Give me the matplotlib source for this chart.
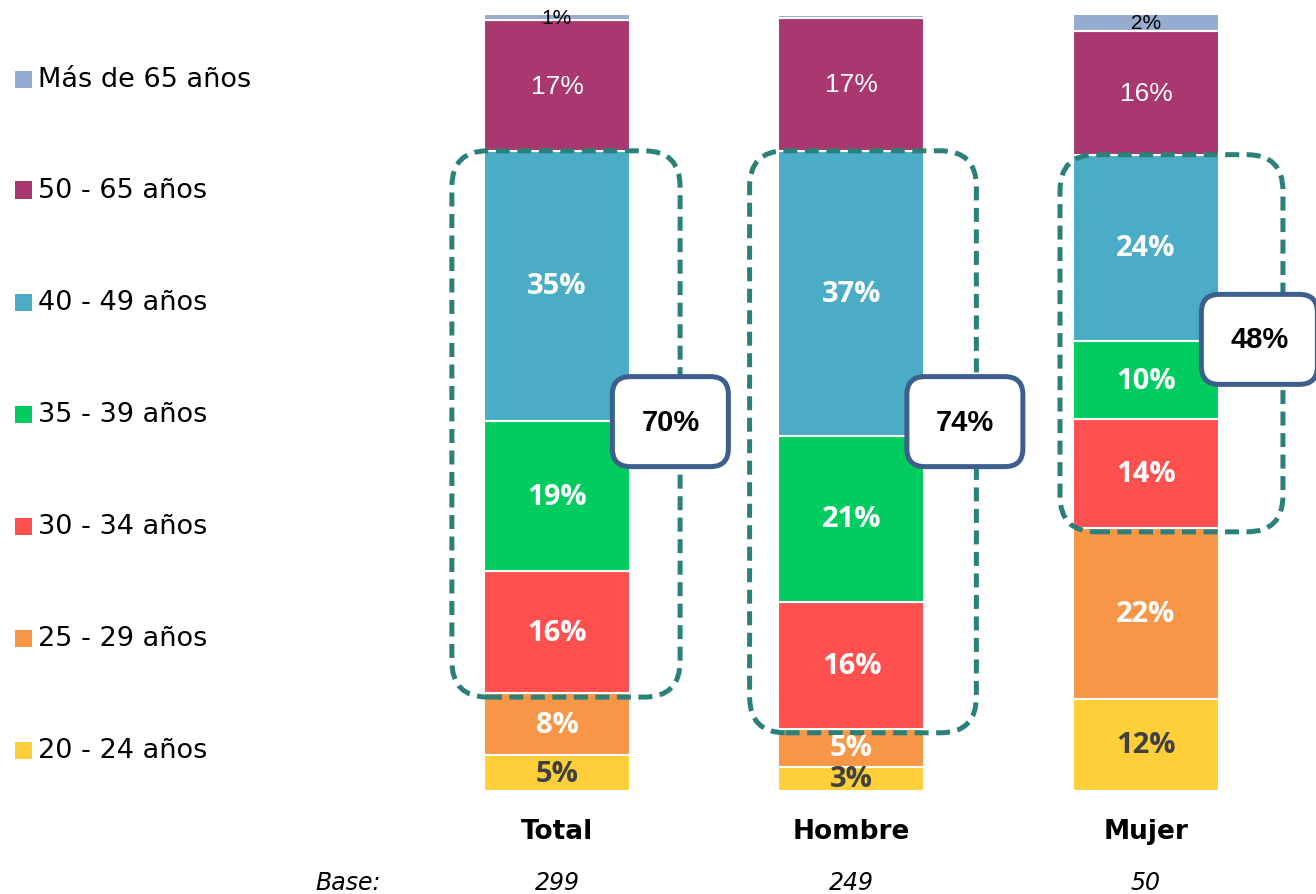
import matplotlib
matplotlib.use("Agg")
import matplotlib.pyplot as plt
from matplotlib.patches import FancyBboxPatch, Rectangle
import numpy as np

# ---------------- data ----------------
categories = ["Total", "Hombre", "Mujer"]
bases = ["299", "249", "50"]
series_labels = ["20 - 24 años", "25 - 29 años", "30 - 34 años", "35 - 39 años",
                 "40 - 49 años", "50 - 65 años", "Más de 65 años"]
age_20_24 = [4.6, 3.1, 11.9]
age_25_29 = [8.0, 4.9, 22.0]
age_30_34 = [15.7, 16.4, 14.0]
age_35_39 = [19.4, 21.4, 10.1]
age_40_49 = [34.8, 36.7, 24.0]
age_50_65 = [16.8, 17.1, 16.0]
age_65_plus = [0.8, 0.4, 2.1]
series = [age_20_24, age_25_29, age_30_34, age_35_39, age_40_49, age_50_65, age_65_plus]
colors = ["#FFCF3A", "#F79646", "#FF5050", "#00CC5F", "#4BACC6", "#A93770", "#95ABD0"]
# groups highlighted (30-34, 35-39, 40-49)
highlight_idx = [2, 3, 4]

# ---------------- figure ----------------
W, H = 1316, 895
fig = plt.figure(figsize=(W / 100, H / 100), dpi=100)
ax_left, ax_bottom, ax_w, ax_h = 0.0, 1 - 792 / H, 1.0, 776 / H
ax = fig.add_axes([ax_left, ax_bottom, ax_w, ax_h])
x = np.arange(len(categories))
xl = (-557 / 294.5, (W - 557) / 294.5)
ax.set_xlim(*xl)
ax.set_ylim(0, 100)
ax.axis("off")
bar_w = 146 / 294.5

px_per_x = W * ax_w / (xl[1] - xl[0])
px_per_y = H * ax_h / 100.0
aspect = px_per_x / px_per_y

bottoms = np.zeros(len(categories))
for i, (vals, col) in enumerate(zip(series, colors)):
    vals = np.array(vals)
    ax.bar(x, vals, bar_w, bottom=bottoms, color=col, edgecolor="white", linewidth=1.5, zorder=2)
    for j, v in enumerate(vals):
        r = int(round(v))
        if r < 1:
            continue
        yc = bottoms[j] + v / 2
        if i == 6:
            ax.text(x[j], yc, f"{r}%", ha="center", va="center", color="black",
                    fontsize=15, family="Liberation Sans", zorder=5)
        elif i == 5:
            ax.text(x[j], yc, f"{r}%", ha="center", va="center", color="white",
                    fontsize=19, family="Liberation Sans", zorder=5)
        elif i == 0:
            ax.text(x[j], yc, f"{r}%", ha="center", va="center", color="#404040",
                    fontsize=21, family="Open Sans", fontweight="bold", zorder=5)
        else:
            ax.text(x[j], yc, f"{r}%", ha="center", va="center", color="white",
                    fontsize=21, family="Open Sans", fontweight="bold", zorder=5)
    bottoms = bottoms + vals

# dashed highlight boxes + callouts
box_offsets = [(-0.357, 0.418), (-0.346, 0.424), (-0.292, 0.465)]
callout_y = [47.6, 47.6, 58.2]
callout_w = 116 / 294.5
callout_h = 90 / px_per_y
cum = np.cumsum(np.array(series), axis=0)
for j in range(len(categories)):
    low = cum[highlight_idx[0] - 1][j]
    high = cum[highlight_idx[-1]][j]
    lo_off, hi_off = box_offsets[j]
    pad = 0.5
    box = FancyBboxPatch((x[j] + lo_off, low - pad), hi_off - lo_off, high - low + pad,
                         boxstyle=f"round,pad=0,rounding_size={36 / px_per_x}",
                         mutation_aspect=aspect, fill=False, edgecolor="#2B8079",
                         linewidth=3.6, linestyle=(0, (2.8, 1.5)), zorder=4, clip_on=False)
    ax.add_patch(box)
    total_pct = sum(int(round(series[k][j])) for k in highlight_idx)
    cx = x[j] + 0.385
    cy = callout_y[j]
    cb = FancyBboxPatch((cx - callout_w / 2, cy - callout_h / 2), callout_w, callout_h,
                        boxstyle=f"round,pad=0,rounding_size={18 / px_per_x}",
                        mutation_aspect=aspect, facecolor="white", edgecolor="#3D5F8E",
                        linewidth=3.6, zorder=6, clip_on=False)
    ax.add_patch(cb)
    ax.text(cx, cy, f"{total_pct}%", ha="center", va="center", fontsize=21,
            fontweight="bold", family="Liberation Sans", color="black", zorder=7)

# category labels and bases
trans = ax.get_xaxis_transform()
for j, c in enumerate(categories):
    ax.text(x[j], -40 / 776, c, transform=trans, ha="center", va="center",
            fontsize=19, fontweight="bold", family="DejaVu Sans")
    ax.text(x[j], -91 / 776, bases[j], transform=trans, ha="center", va="center",
            fontsize=17, style="italic", family="DejaVu Sans")
ax.text(-0.71, -91 / 776, "Base:", transform=trans, ha="center", va="center",
        fontsize=17, style="italic", family="DejaVu Sans")

# legend (manual, top to bottom = reversed series)
leg_y = [80, 191, 303, 415, 527, 639, 751]
for k, (lab, col) in enumerate(zip(series_labels[::-1], colors[::-1])):
    yc = 1 - leg_y[k] / H
    fig.patches.append(Rectangle((15 / W, yc - 8.5 / H), 17 / W, 17 / H,
                                 transform=fig.transFigure, facecolor=col,
                                 edgecolor="none", figure=fig))
    fig.text(38 / W, yc, lab, ha="left", va="center", fontsize=19.5, family="DejaVu Sans")

fig.savefig("out.png", dpi=100)
